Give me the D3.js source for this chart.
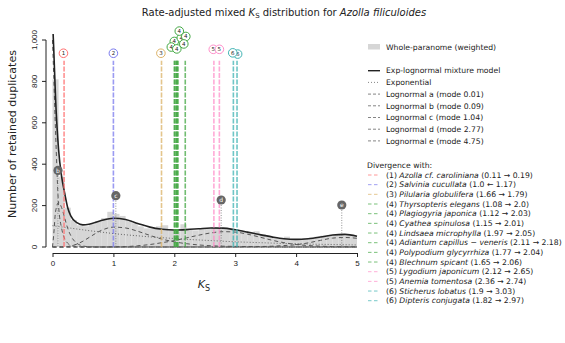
<!DOCTYPE html>
<html>
    <head>
        <meta charset="utf-8" />
        <script src="https://d3js.org/d3.v7.min.js"></script>
        <style type="text/css">
            body {
                margin: 0;
                background-color: white;
            }

            svg#mainSvg {
                width: 565px;
                height: 343px;
                font-family: "DejaVu Sans", sans-serif;
            }

            .axis path,
            .axis line {
                stroke: #222;
            }
        </style>
    </head>

    <body>
        <svg id="mainSvg"></svg>

        <!-- Data -->
        <script type="text/javascript">
            // Ks grid where the curves were read
            const ksGrid = [
                0, 0.02, 0.05, 0.1, 0.15, 0.2, 0.25, 0.3, 0.4, 0.5, 0.6, 0.8,
                1.0, 1.2, 1.4, 1.6, 1.8, 2.0, 2.2, 2.4, 2.6, 2.8, 3.0, 3.2,
                3.4, 3.6, 3.8, 4.0, 4.2, 4.4, 4.6, 4.8, 5.0,
            ];

            // Curves (number of duplicates at each grid point)
            const mixture = [
                1100, 960, 720, 470, 340, 260, 190, 150, 118, 107, 110, 128,
                139, 133, 114, 96, 86, 82, 84, 88, 92, 91, 83, 72,
                60, 49, 40, 37, 40, 48, 58, 61, 52,
            ];
            const exponential = [
                103, 102, 101, 99, 97, 95, 93, 91, 87, 83, 79, 72,
                65, 59, 54, 49, 45, 41, 37, 34, 31, 28, 25, 23,
                21, 19, 17, 16, 14, 13, 12, 11, 10,
            ];
            const lognormalA = [
                1000, 830, 560, 200, 90, 40, 18, 8, 2, 0, 0, 0,
                0, 0, 0, 0, 0, 0, 0, 0, 0, 0, 0, 0,
                0, 0, 0, 0, 0, 0, 0, 0, 0,
            ];
            const lognormalB = [
                0, 60, 170, 215, 190, 140, 90, 55, 18, 5, 1, 0,
                0, 0, 0, 0, 0, 0, 0, 0, 0, 0, 0, 0,
                0, 0, 0, 0, 0, 0, 0, 0, 0,
            ];
            const lognormalC = [
                0, 0, 0, 0, 0, 1, 2, 5, 14, 28, 46, 80,
                96, 92, 76, 56, 38, 25, 16, 10, 6, 4, 3, 2,
                1, 1, 0, 0, 0, 0, 0, 0, 0,
            ];
            const lognormalD = [
                0, 0, 0, 0, 0, 0, 0, 0, 0, 0, 0, 0,
                1, 2, 6, 12, 21, 31, 44, 57, 68, 74, 72, 62,
                48, 33, 21, 12, 7, 4, 2, 1, 1,
            ];
            const lognormalE = [
                0, 0, 0, 0, 0, 0, 0, 0, 0, 0, 0, 0,
                0, 0, 0, 0, 0, 0, 0, 0, 0, 0, 0, 1,
                2, 4, 7, 11, 20, 32, 43, 46, 42,
            ];

            // Weighted whole-paranome histogram (bin width 0.1)
            const binStarts = d3.range(0, 5, 0.1);
            const binCounts = [
                810, 340, 190, 130, 105, 100, 110, 125, 140, 170,
                160, 150, 130, 115, 100, 90, 88, 100, 105, 80,
                75, 110, 85, 80, 88, 90, 95, 92, 90, 85,
                80, 78, 70, 76, 62, 52, 44, 40, 50, 38,
                36, 42, 45, 50, 55, 58, 60, 58, 55, 52,
            ];

            // Component modes and their marker heights
            const compLetters = ["b", "c", "d", "e"];
            const compModes = [0.09, 1.04, 2.77, 4.75];
            const compMarkY = [370, 248, 227, 203];

            // Legend entries for the model
            const modelLabels = [
                "Exp-lognormal mixture model",
                "Exponential",
                "Lognormal a (mode 0.01)",
                "Lognormal b (mode 0.09)",
                "Lognormal c (mode 1.04)",
                "Lognormal d (mode 2.77)",
                "Lognormal e (mode 4.75)",
            ];

            // Divergences with other species
            const divGroups = [1, 2, 3, 4, 4, 4, 4, 4, 4, 4, 5, 5, 6, 6];
            const divSpecies = [
                "Azolla cf.  caroliniana",
                "Salvinia cucullata",
                "Pilularia globulifera",
                "Thyrsopteris elegans",
                "Plagiogyria japonica",
                "Cyathea spinulosa",
                "Lindsaea microphylla",
                "Adiantum capillus − veneris",
                "Polypodium glycyrrhiza",
                "Blechnum spicant",
                "Lygodium japonicum",
                "Anemia tomentosa",
                "Sticherus lobatus",
                "Dipteris conjugata",
            ];
            const divRanges = [
                "(0.11 → 0.19)",
                "(1.0 ← 1.17)",
                "(1.66 → 1.79)",
                "(1.08 → 2.0)",
                "(1.12 → 2.03)",
                "(1.15 → 2.01)",
                "(1.97 → 2.05)",
                "(2.11 → 2.18)",
                "(1.77 → 2.04)",
                "(1.65 → 2.06)",
                "(2.12 → 2.65)",
                "(2.36 → 2.74)",
                "(1.9 → 3.03)",
                "(1.82 → 2.97)",
            ];
            const divKs = [
                0.19, 1.0, 1.79, 2.0, 2.03, 2.01, 2.05, 2.18, 2.04, 2.06,
                2.65, 2.74, 3.03, 2.97,
            ];
            // Where the number bubbles sit, pushed apart where they crowd
            const divLabelKs = [
                0.18, 1.0, 1.78, 2.0, 2.115, 1.951, 2.082, 2.189, 2.041, 2.156,
                2.64, 2.74, 3.04, 2.96,
            ];
            const divLabelY = [
                936, 936, 936, 993, 1010, 966, 1043, 1017, 957, 981, 955,
                955, 932, 938,
            ];
            const groupColors = {
                1: "#ff6f6f",
                2: "#7a7aee",
                3: "#dcb266",
                4: "#43a843",
                5: "#ff8fca",
                6: "#3fb3b3",
            };

            const yTicks = [0, 200, 400, 600, 800, 1000];
            const xTicks = [0, 1, 2, 3, 4, 5];
        </script>

        <!-- Scales and the main group -->
        <script type="text/javascript">
            const svg = d3.select(mainSvg);

            const x = d3.scaleLinear().domain([0, 5]).range([52.5, 357]);
            const y = d3.scaleLinear().domain([0, 1000]).range([247, 40]);

            // Clip the curves at the top of the plotting region
            svg.append("defs")
                .append("clipPath")
                .attr("id", "plotClip")
                .append("rect")
                .attr("x", 46)
                .attr("y", 34)
                .attr("width", 318)
                .attr("height", 216);

            const grp = svg.append("g");
            const plot = grp.append("g").attr("clip-path", "url(#plotClip)");
        </script>

        <!-- Histogram and model curves -->
        <script type="text/javascript">
            plot.append("g")
                .selectAll("rect")
                .data(binCounts)
                .enter()
                .append("rect")
                .attr("x", (d, i) => x(binStarts[i]))
                .attr("width", (d, i) => x(binStarts[i] + 0.1) - x(binStarts[i]))
                .attr("y", (d) => y(d))
                .attr("height", (d) => y(0) - y(d))
                .style("fill", "#d6d6d6");

            const line = (vals) =>
                d3
                    .line()
                    .x((d, i) => x(ksGrid[i]))
                    .y((d) => y(d))
                    .curve(d3.curveMonotoneX)(vals);

            // Lognormal components, dashed
            [lognormalA, lognormalB, lognormalC, lognormalD, lognormalE].forEach(
                (vals) => {
                    plot.append("path")
                        .attr("d", line(vals))
                        .style("fill", "none")
                        .style("stroke", "#555")
                        .style("stroke-width", 1)
                        .style("stroke-dasharray", "4,3");
                }
            );

            // Exponential component, dotted
            plot.append("path")
                .attr("d", line(exponential))
                .style("fill", "none")
                .style("stroke", "#666")
                .style("stroke-width", 1)
                .style("stroke-dasharray", "1,2");

            // Mixture model
            plot.append("path")
                .attr("d", line(mixture))
                .style("fill", "none")
                .style("stroke", "#222")
                .style("stroke-width", 1.6);
        </script>

        <!-- Divergence lines and markers -->
        <script type="text/javascript">
            plot.append("g")
                .selectAll("line")
                .data(divKs)
                .enter()
                .append("line")
                .attr("x1", (d) => x(d))
                .attr("x2", (d) => x(d))
                .attr("y1", y(0))
                .attr("y2", y(900))
                .style("stroke", (d, i) => groupColors[divGroups[i]])
                .style("stroke-width", 1.6)
                .style("stroke-dasharray", "5,1.5")
                .style("opacity", 0.75);

            // Component mode markers
            const marks = grp
                .append("g")
                .selectAll("g")
                .data(compModes)
                .enter()
                .append("g");
            marks
                .append("line")
                .attr("x1", (d) => x(d))
                .attr("x2", (d) => x(d))
                .attr("y1", (d, i) => y(compMarkY[i]))
                .attr("y2", y(0))
                .style("stroke", "#777")
                .style("stroke-width", 0.8)
                .style("stroke-dasharray", "1,1.5");
            marks
                .append("circle")
                .attr("cx", (d) => x(d))
                .attr("cy", (d, i) => y(compMarkY[i]))
                .attr("r", 4.6)
                .style("fill", "#666");
            marks
                .append("text")
                .attr("x", (d) => x(d))
                .attr("y", (d, i) => y(compMarkY[i]) + 2.2)
                .attr("text-anchor", "middle")
                .style("font-size", "6px")
                .style("fill", "white")
                .text((d, i) => compLetters[i]);

            // Number bubbles above the divergence lines
            const bubbles = grp
                .append("g")
                .selectAll("g")
                .data(divLabelKs)
                .enter()
                .append("g");
            bubbles
                .append("circle")
                .attr("cx", (d) => x(d))
                .attr("cy", (d, i) => y(divLabelY[i]))
                .attr("r", 4.3)
                .style("fill", "white")
                .style("stroke", (d, i) => groupColors[divGroups[i]])
                .style("stroke-width", 1);
            bubbles
                .append("text")
                .attr("x", (d) => x(d))
                .attr("y", (d, i) => y(divLabelY[i]) + 2)
                .attr("text-anchor", "middle")
                .style("font-size", "5.5px")
                .style("fill", "#222")
                .text((d, i) => divGroups[i]);
        </script>

        <!-- Axes and titles -->
        <script type="text/javascript">
            grp.append("g")
                .attr("class", "axis")
                .attr("transform", "translate(46,0)")
                .call(d3.axisLeft(y).tickValues(yTicks).tickSize(4).tickSizeOuter(0))
                .call((g) => g.selectAll(".tick").attr("transform", null))
                .call((g) =>
                    g.selectAll(".tick line").attr("y1", (d) => y(d)).attr("y2", (d) => y(d))
                )
                .call((g) =>
                    g
                        .selectAll(".tick text")
                        .attr("x", 0)
                        .attr("y", 0)
                        .attr("dy", 0)
                        .attr("transform", (d) => "translate(-9," + y(d) + ") rotate(-90)")
                        .attr("text-anchor", "middle")
                        .style("font-size", "8px")
                        .style("fill", "#222")
                )
                .call((g) => g.select(".domain").attr("d", "M0," + y(0) + "V" + y(1000)));

            grp.append("g")
                .attr("class", "axis")
                .attr("transform", "translate(0,253)")
                .call(
                    d3
                        .axisBottom(x)
                        .tickValues(xTicks)
                        .tickFormat(d3.format("d"))
                        .tickSize(4)
                        .tickSizeOuter(0)
                        .tickPadding(3)
                )
                .call((g) =>
                    g.selectAll("text").style("font-size", "8px").style("fill", "#222")
                );

            // Y axis title
            grp.append("text")
                .attr("transform", "translate(16,134) rotate(-90)")
                .attr("text-anchor", "middle")
                .style("font-size", "11px")
                .style("fill", "#222")
                .text("Number of retained duplicates");

            // X axis title with subscript
            const xt = grp
                .append("text")
                .attr("x", 204)
                .attr("y", 288)
                .attr("text-anchor", "middle")
                .style("font-size", "11px")
                .style("fill", "#222");
            xt.append("tspan").style("font-style", "italic").text("K");
            xt.append("tspan").attr("dy", 2.5).style("font-size", "8px").text("S");

            // Main title
            const title = grp
                .append("text")
                .attr("x", 284)
                .attr("y", 16)
                .attr("text-anchor", "middle")
                .style("font-size", "10px")
                .style("fill", "#222");
            title.append("tspan").text("Rate-adjusted mixed ");
            title.append("tspan").style("font-style", "italic").text("K");
            title.append("tspan").attr("dy", 2).style("font-size", "7px").text("S");
            title.append("tspan").attr("dy", -2).text(" distribution for ");
            title.append("tspan").style("font-style", "italic").text("Azolla filiculoides");
        </script>

        <!-- Legend -->
        <script type="text/javascript">
            const leg = grp.append("g").style("font-size", "7.7px").style("fill", "#222");

            leg.append("rect")
                .attr("x", 368)
                .attr("y", 44)
                .attr("width", 12)
                .attr("height", 5.5)
                .style("fill", "#d6d6d6");
            leg.append("text").attr("x", 386).attr("y", 49.5).text("Whole-paranome (weighted)");

            const modelDash = [null, "1,2", "3,2", "3,2", "3,2", "3,2", "3,2"];
            const modelRows = leg
                .append("g")
                .selectAll("g")
                .data(modelLabels)
                .enter()
                .append("g")
                .attr("transform", (d, i) => "translate(0," + (70.7 + i * 11.7) + ")");
            modelRows
                .append("line")
                .attr("x1", 368)
                .attr("x2", 380)
                .style("stroke", (d, i) => (i === 0 ? "#222" : "#777"))
                .style("stroke-width", (d, i) => (i === 0 ? 1.4 : 0.9))
                .style("stroke-dasharray", (d, i) => modelDash[i]);
            modelRows
                .append("text")
                .attr("x", 386)
                .attr("y", 2.7)
                .text((d) => d);

            leg.append("text").attr("x", 367).attr("y", 167.5).text("Divergence with:");

            const divRows = leg
                .append("g")
                .selectAll("g")
                .data(divSpecies)
                .enter()
                .append("g")
                .attr("transform", (d, i) => "translate(0," + (175 + i * 9.67) + ")");
            divRows
                .append("line")
                .attr("x1", 368)
                .attr("x2", 380)
                .style("stroke", (d, i) => groupColors[divGroups[i]])
                .style("stroke-width", 1)
                .style("stroke-dasharray", "3.5,2.5")
                .style("opacity", 0.7);
            const divText = divRows.append("text").attr("x", 386).attr("y", 2.7);
            divText.append("tspan").text((d, i) => "(" + divGroups[i] + ") ");
            divText.append("tspan").style("font-style", "italic").text((d) => d);
            divText.append("tspan").text((d, i) => " " + divRanges[i]);
        </script>
    </body>
</html>
